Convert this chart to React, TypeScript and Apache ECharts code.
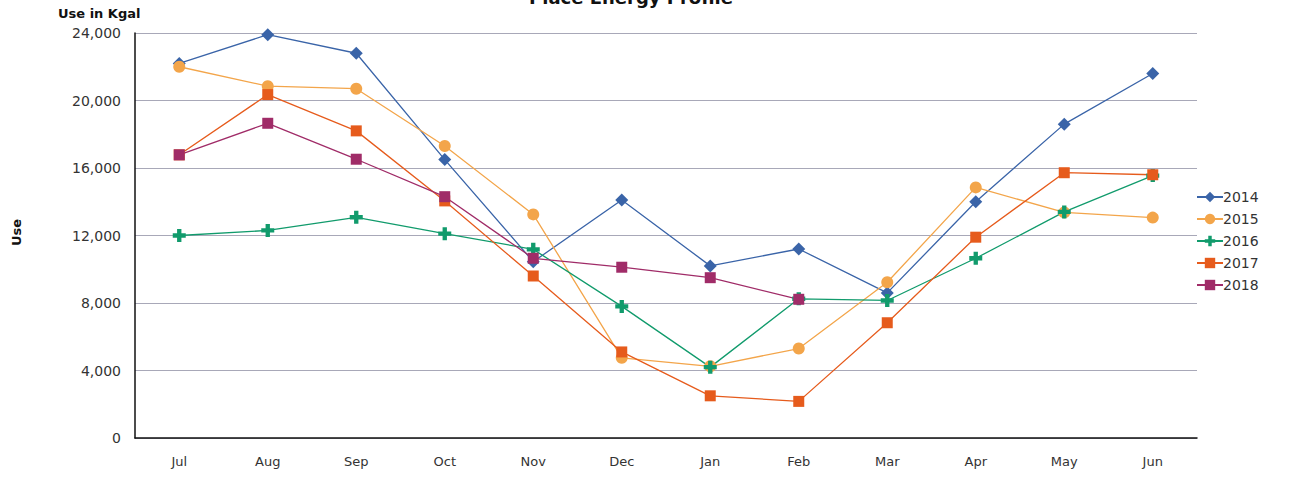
import React, { useEffect, useRef } from "react";
import * as echarts from "echarts";

const months = ["Jul", "Aug", "Sep", "Oct", "Nov", "Dec", "Jan", "Feb", "Mar", "Apr", "May", "Jun"];
const use2014 = [22200, 23900, 22800, 16500, 10450, 14100, 10200, 11200, 8600, 14000, 18600, 21600];
const use2015 = [22000, 20850, 20700, 17300, 13250, 4750, 4250, 5300, 9230, 14850, 13370, 13060];
const use2016 = [12000, 12300, 13080, 12110, 11180, 7800, 4200, 8250, 8150, 10650, 13400, 15550];
const use2017 = [16780, 20350, 18200, 14050, 9600, 5100, 2500, 2170, 6830, 11900, 15720, 15600];
const use2018 = [16780, 18650, 16520, 14300, 10650, 10120, 9500, 8220];
const yTicks = [0, 4000, 8000, 12000, 16000, 20000, 24000];

const crossPath = "path://M4,0h4v4h4v4h-4v4h-4v-4h-4v-4h4z";

export default function App() {
  const ref = useRef<HTMLDivElement>(null);
  useEffect(() => {
    if (!ref.current) return;
    const chart = echarts.init(ref.current, undefined, { renderer: "svg" });
    const font = "DejaVu Sans";
    const mk = (name: string, data: number[], color: string, symbol: string, size: number) => ({
      name,
      type: "line",
      data,
      symbol,
      symbolSize: size,
      showAllSymbol: true,
      lineStyle: { color, width: 1.3 },
      itemStyle: { color },
      z: 3,
    });
    chart.setOption({
      animation: false,
      backgroundColor: "#ffffff",
      textStyle: { fontFamily: font },
      graphic: [
        {
          type: "text",
          x: 631,
          y: -12,
          style: { text: "Place Energy Profile", font: "bold 18px 'DejaVu Sans'", fill: "#111", textAlign: "center" },
        },
        {
          type: "text",
          x: 58,
          y: 7,
          style: { text: "Use in Kgal", font: "bold 13px 'DejaVu Sans'", fill: "#111" },
        },
        {
          type: "text",
          x: 10,
          y: 246,
          rotation: Math.PI / 2,
          style: { text: "Use", font: "bold 13px 'DejaVu Sans'", fill: "#111" },
        },
      ],
      legend: {
        orient: "vertical",
        left: 1191,
        top: 185,
        itemWidth: 26,
        itemHeight: 13,
        itemGap: 8,
        textStyle: { fontFamily: font, fontSize: 14, color: "#333", padding: [0, 0, 0, -5] },
        data: ["2014", "2015", "2016", "2017", "2018"],
      },
      grid: { left: 135, right: 104, top: 33, bottom: 39, containLabel: false },
      xAxis: {
        type: "category",
        data: months,
        boundaryGap: true,
        axisLine: { lineStyle: { color: "#111", width: 1.5 } },
        axisTick: { show: false },
        axisLabel: { color: "#333", fontSize: 13, fontFamily: font, margin: 17 },
      },
      yAxis: {
        type: "value",
        min: yTicks[0],
        max: yTicks[yTicks.length - 1],
        interval: 4000,
        axisLine: { show: true, lineStyle: { color: "#111", width: 1.5 } },
        axisTick: { show: false },
        splitLine: { lineStyle: { color: "#a8a8b8", width: 1 } },
        axisLabel: {
          color: "#333",
          fontSize: 14,
          fontFamily: font,
          margin: 14,
          formatter: (v: number) => v.toLocaleString("en-US"),
        },
      },
      series: [
        mk("2014", use2014, "#3a64a8", "diamond", 13),
        mk("2015", use2015, "#f3a54a", "circle", 12),
        mk("2016", use2016, "#119b6c", crossPath, 13),
        mk("2017", use2017, "#e65b1c", "rect", 11),
        mk("2018", use2018, "#a02c68", "rect", 11),
      ],
    });
    return () => chart.dispose();
  }, []);
  return (
    <div
      ref={ref}
      style={{ position: "fixed", left: 0, top: 0, width: 1301, height: 477 }}
    />
  );
}
